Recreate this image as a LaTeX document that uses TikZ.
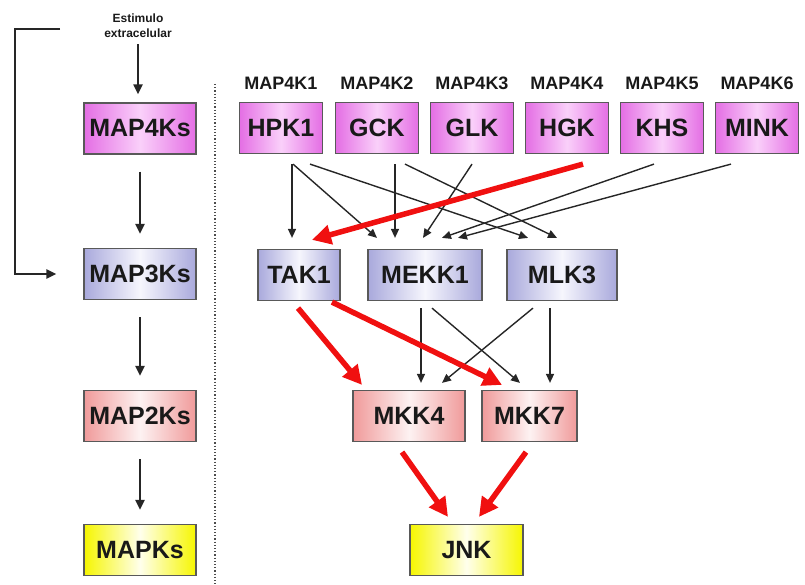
\documentclass[tikz,border=0pt]{standalone}
\usepackage{fontspec}
\setmainfont{Liberation Sans}
\usetikzlibrary{arrows.meta, positioning}
\definecolor{mag}{HTML}{E46EE4}
\definecolor{magl}{HTML}{FAD0FA}
\definecolor{lav}{HTML}{A9A9DC}
\definecolor{lavl}{HTML}{F6F6FD}
\definecolor{rose}{HTML}{F09A9A}
\definecolor{rosel}{HTML}{FDF2F2}
\definecolor{yel}{HTML}{F6F600}
\definecolor{yell}{HTML}{FFFFEC}
\definecolor{rd}{HTML}{F01010}

\begin{document}
\begin{tikzpicture}[
  x=1pt, y=-1pt,
  every node/.style = {font=\bfseries, text=black!90},
  kin/.style = {shape=rectangle, draw=black!65, line width=1.2pt, inner sep=0pt,
                minimum height=51pt, font=\fontsize{25}{25}\bfseries},
  k4/.style = {kin, left color=mag, right color=mag, middle color=magl},
  k3/.style = {kin, left color=lav, right color=lav, middle color=lavl},
  k2/.style = {kin, left color=rose, right color=rose, middle color=rosel},
  kk/.style = {kin, left color=yel, right color=yel, middle color=yell},
  lvl/.style = {minimum width=112pt},
  iso/.style = {inner sep=0pt, font=\fontsize{18}{18}\bfseries},
  blk/.style = {draw=black!85, line width=1.4pt, -{Triangle[length=9pt,width=8pt]}},
  col/.style = {draw=black!85, line width=2pt, -{Triangle[length=10pt,width=9pt]}},
  hot/.style = {draw=rd, line width=5.5pt, -{Triangle[length=19pt,width=19pt]}}
]
  \useasboundingbox (0,0) rectangle (805,585);

  % levels
  \node[align=center, font=\fontsize{12}{15}\bfseries] (stim) at (138,26) {Estimulo\\extracelular};
  \node[k4, lvl] (m4) at (140,128.5) {MAP4Ks};
  \node[k3, lvl] (m3) at (140,274) {MAP3Ks};
  \node[k2, lvl] (m2) at (140,416) {MAP2Ks};
  \node[kk, lvl] (mk) at (140,550) {MAPKs};

  \draw[col, shorten <=3pt, shorten >=8pt] (stim.south) -- (stim.south |- m4.north);
  \foreach \a/\b in {m4/m3, m3/m2, m2/mk}
    \draw[col, shorten <=17pt, shorten >=14pt] (\a.south) -- (\b.north);
  \coordinate (fb) at (60,29);
  \draw[col] (fb) -- ++(-45,0) |- ([xshift=-27pt]m3.west);

  \draw[dotted, line width=1.2pt, black!70] (215,84) -- (215,585);

  % kinases
  \foreach \name/\lab/\x [count=\i] in {hpk/HPK1/281, gck/GCK/377, glk/GLK/472,
                                        hgk/HGK/567, khs/KHS/662, mink/MINK/757} {
    \node[k4, minimum width=83pt] (\name) at (\x,128) {\lab};
    \node[iso, above=12pt of \name] (\name-id) {MAP4K\i};
  }
  \node[k3, minimum width=82pt] (tak) at (299,275) {TAK1};
  \node[k3, minimum width=114pt] (mekk) at (425,275) {MEKK1};
  \node[k3, minimum width=110pt] (mlk) at (562,275) {MLK3};
  \node[k2, minimum width=112pt] (mkk4) at (409,416) {MKK4};
  \node[k2, minimum width=95pt] (mkk7) at (529.5,416) {MKK7};
  \node[kk, minimum width=113pt] (jnk) at (466.5,550) {JNK};

  \foreach \a/\u/\b/\v in {hpk/11/tak/-7, hpk/12/mekk/-48, hpk/29/mlk/-34,
                           gck/18/mekk/-30, gck/28/mlk/-5, glk/0/mekk/-2,
                           khs/-8/mekk/17, mink/-26/mekk/33}
    \draw[blk] ([shift={(\u,10)}]\a.south) -- ([shift={(\v,-11)}]\b.north);
  \foreach \a/\u/\b/\v in {mekk/-4/mkk4/12, mekk/7/mkk7/-9.5,
                           mlk/-29/mkk4/33, mlk/-12/mkk7/20.5}
    \draw[blk] ([shift={(\u,7)}]\a.south) -- ([shift={(\v,-7)}]\b.north);

  \draw[hot] ([shift={(16,10)}]hgk.south) -- ([shift={(13,-9)}]tak.north);
  \draw[hot] ([shift={(-1,7)}]tak.south) -- ([shift={(-47,-5)}]mkk4.north);
  \draw[hot] ([shift={(33,1)}]tak.south) -- ([shift={(-27.5,-5)}]mkk7.north);
  \draw[hot] ([shift={(-7,10)}]mkk4.south) -- ([shift={(-18.5,-7)}]jnk.north);
  \draw[hot] ([shift={(-3.5,10)}]mkk7.south) -- ([shift={(12.5,-7)}]jnk.north);
\end{tikzpicture}
\end{document}
